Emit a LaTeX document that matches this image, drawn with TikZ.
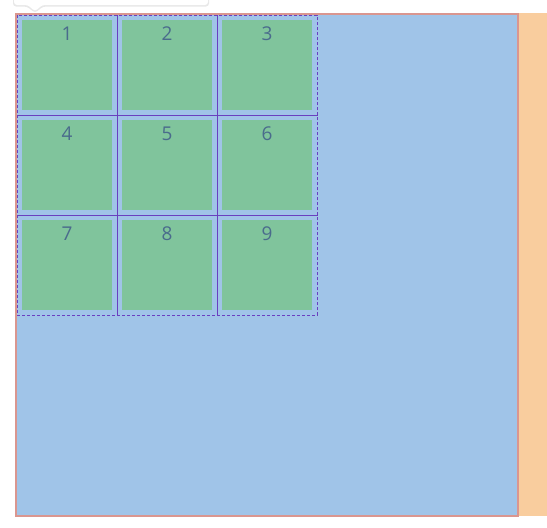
\documentclass[tikz,border=0pt]{standalone}
\usepackage{fontspec}
\setmainfont{Open Sans}
\usetikzlibrary{positioning}
\definecolor{panelblue}{HTML}{A0C4E8}
\definecolor{cellgreen}{HTML}{80C49C}
\definecolor{sideorange}{HTML}{F9CD9E}
\definecolor{edgesalmon}{HTML}{DA968F}
\definecolor{gridline}{HTML}{6A3FC0}
\definecolor{gridbase}{HTML}{4C5F80}
\definecolor{numblue}{HTML}{4A6B8C}

\begin{document}
\begin{tikzpicture}[x=1pt,y=-1pt,node distance=100pt,
    cell/.style={preaction={draw=gridbase,line width=0.6pt},draw=gridline,dash pattern=on 3pt off 2pt,line width=0.8pt,minimum size=100pt,inner sep=0pt,outer sep=0pt},
    item/.style={fill=cellgreen,minimum size=90pt,inner sep=0pt},
    num/.style={text=numblue,font=\fontsize{19}{20}\selectfont,inner sep=0pt}]
        \useasboundingbox (0,0) rectangle (547,528);
        % side strip and main panel
        \fill[sideorange] (518,13) rectangle (547,516);
        \draw[edgesalmon,line width=2pt,fill=panelblue] (16,14) rectangle (518,516);
        % tooltip on top
        \fill[gray!18,rounded corners=3pt] (13,-10) -- (209,-10) -- (209,6.5) -- (43,6.5) -- (35,13) -- (27,6.5) -- (13,6.5) -- cycle;
        \fill[white,rounded corners=3pt] (14,-10) -- (208,-10) -- (208,5) -- (42,5) -- (35,11.5) -- (28,5) -- (14,5) -- cycle;

        \node[cell]   (c1)  at (67,65)          {};
        \node[cell]   (c2)  [right of=c1]       {};
        \node[cell]   (c3)  [right of=c2]       {};
        \node[cell]   (c4)  [below of=c1]       {};
        \node[cell]   (c5)  [right of=c4]       {};
        \node[cell]   (c6)  [right of=c5]       {};
        \node[cell]   (c7)  [below of=c4]       {};
        \node[cell]   (c8)  [right of=c7]       {};
        \node[cell]   (c9)  [right of=c8]       {};

        \foreach \i in {1,...,9} {
            \node[item] (g\i) at (c\i.center) {};
            \node[num] (n\i) at ([yshift=31.5pt]g\i.center) {\i};
        }
\end{tikzpicture}
\end{document}
